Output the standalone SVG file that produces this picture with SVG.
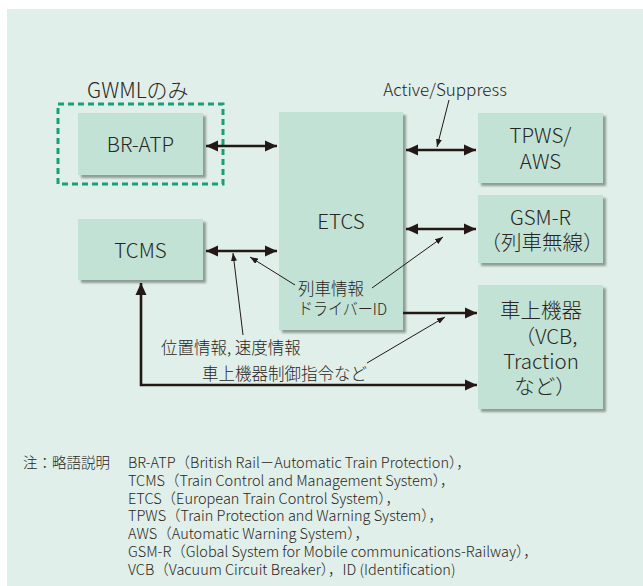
<svg xmlns="http://www.w3.org/2000/svg" width="643" height="586" viewBox="0 0 643 586">
<style>
text{font-family:"Noto Sans CJK JP","Noto Sans",sans-serif;fill:#2b2522;font-weight:300}
.box{fill:#c1e2d5}
.sh{fill:#8f9c97}
.lbl{font-size:20.5px;text-anchor:middle}
.sm{font-size:16.5px}
.note{font-size:14.5px}
.conn{stroke:#231815;stroke-width:2.6;fill:none}
.lead{stroke:#231815;stroke-width:1;fill:none}
</style>
<defs>
<filter id="blur" x="-10%" y="-10%" width="120%" height="120%"><feGaussianBlur stdDeviation="1"/></filter>
<marker id="ah" viewBox="0 0 12 12" refX="12" refY="6" markerWidth="12" markerHeight="12" markerUnits="userSpaceOnUse" orient="auto-start-reverse"><path d="M0,0.5 L12,6 L0,11.5 z" fill="#231815"/></marker>
<marker id="sh" viewBox="0 0 8 6" refX="8" refY="3" markerWidth="8" markerHeight="6" markerUnits="userSpaceOnUse" orient="auto"><path d="M0,0 L8,3 L0,6 z" fill="#231815"/></marker>
</defs>
<rect x="7" y="9" width="636" height="577" fill="#e0efe9"/>

<g id="gwml">
<rect x="58" y="104" width="165" height="80" fill="none" stroke="#17a077" stroke-width="3" stroke-dasharray="6,4"/>
<text x="87" y="98" style="font-size:21px">GWMLのみ</text>
</g>
<g id="bratp">
<rect class="sh" x="81" y="116" width="125" height="62" filter="url(#blur)"/>
<rect class="box" x="78" y="113" width="125" height="62"/>
<text class="lbl" x="140.5" y="152">BR-ATP</text>
</g>
<g id="tcms">
<rect class="sh" x="81" y="222" width="125" height="61" filter="url(#blur)"/>
<rect class="box" x="78" y="219" width="125" height="61"/>
<text class="lbl" x="140.5" y="258">TCMS</text>
</g>
<g id="etcs">
<rect class="sh" x="282" y="115" width="124" height="218" filter="url(#blur)"/>
<rect class="box" x="279" y="112" width="124" height="218"/>
<text class="lbl" x="341" y="229">ETCS</text>
<text class="sm" x="298" y="295">列車情報</text>
<text class="sm" x="298" y="315" textLength="89" lengthAdjust="spacingAndGlyphs">ドライバーID</text>
</g>
<g id="tpws">
<rect class="sh" x="481" y="116" width="125" height="70" filter="url(#blur)"/>
<rect class="box" x="478" y="113" width="125" height="70"/>
<text class="lbl" x="540.5" y="143">TPWS/</text>
<text class="lbl" x="540.5" y="169">AWS</text>
</g>
<g id="gsmr">
<rect class="sh" x="481" y="198" width="125" height="68" filter="url(#blur)"/>
<rect class="box" x="478" y="195" width="125" height="68"/>
<text class="lbl" x="540.5" y="225">GSM-R</text>
<text class="lbl" x="542" y="250">（列車無線）</text>
</g>
<g id="onboard">
<rect class="sh" x="481" y="288" width="125" height="124" filter="url(#blur)"/>
<rect class="box" x="478" y="285" width="125" height="124"/>
<text class="lbl" x="541" y="318">車上機器</text>
<text class="lbl" x="546" y="344">（VCB,</text>
<text class="lbl" x="541" y="369">Traction</text>
<text class="lbl" x="545" y="394">など）</text>
</g>

<g id="connectors">
<path class="conn" d="M206,146 H277" marker-start="url(#ah)" marker-end="url(#ah)"/>
<path class="conn" d="M206,251 H277" marker-start="url(#ah)" marker-end="url(#ah)"/>
<path class="conn" d="M406,150 H476" marker-start="url(#ah)" marker-end="url(#ah)"/>
<path class="conn" d="M406,229 H476" marker-start="url(#ah)" marker-end="url(#ah)"/>
<path class="conn" d="M403,313 H477" marker-end="url(#ah)"/>
<path class="conn" d="M477,385 H141 V283" marker-start="url(#ah)" marker-end="url(#ah)"/>
<path class="lead" d="M449,100 L437,147" marker-end="url(#sh)"/>
<path class="lead" d="M295,285 L250,257" marker-end="url(#sh)"/>
<path class="lead" d="M243,335 L233,253" marker-end="url(#sh)"/>
<path class="lead" d="M372,288 L443,237" marker-end="url(#sh)"/>
<path class="lead" d="M367,363 L445,317" marker-end="url(#sh)"/>
</g>

<g id="labels">
<text x="445" y="96" style="font-size:17px;text-anchor:middle">Active/Suppress</text>
<text class="sm" x="161" y="354">位置情報, 速度情報</text>
<text class="sm" x="202" y="380">車上機器制御指令など</text>
</g>

<g id="notes">
<text class="note" x="23" y="468">注：略語説明</text>
<text class="note" x="128" y="468">BR-ATP（British Rail－Automatic Train Protection），</text>
<text class="note" x="128" y="486">TCMS（Train Control and Management System），</text>
<text class="note" x="128" y="504">ETCS（European Train Control System），</text>
<text class="note" x="128" y="521">TPWS（Train Protection and Warning System），</text>
<text class="note" x="128" y="539">AWS（Automatic Warning System），</text>
<text class="note" x="128" y="557">GSM-R（Global System for Mobile communications-Railway），</text>
<text class="note" x="128" y="575">VCB（Vacuum Circuit Breaker），ID (Identification)</text>
</g>
</svg>
